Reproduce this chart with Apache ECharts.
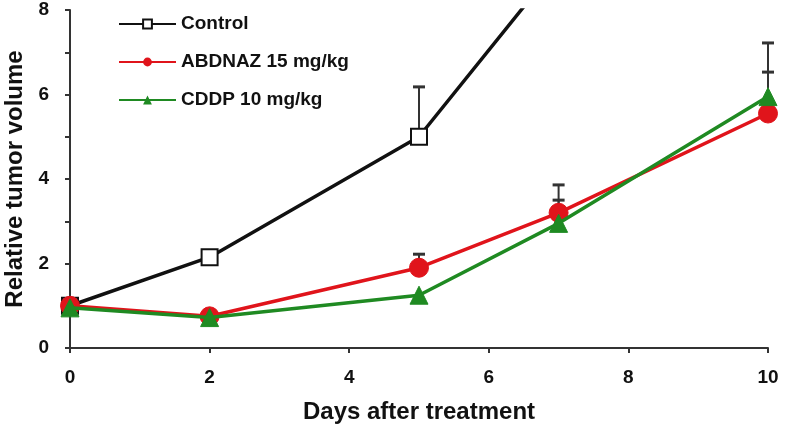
<!DOCTYPE html>
<html><head><meta charset="utf-8">
<script src="https://cdn.jsdelivr.net/npm/echarts@6/dist/echarts.min.js"></script>
<style>html,body{margin:0;padding:0;background:#fff}#c{width:788px;height:430px}</style>
</head><body><div id="c"></div>
<script>
const days = [0, 2, 5, 7, 10];
const controlVals = [1.0, 2.15, 5.0, 9.1, null];
const abdnazVals = [1.0, 0.75, 1.9, 3.2, 5.55];
const cddpVals = [0.95, 0.72, 1.25, 2.95, 5.95];
// error bar tops [day, value, top]
const controlErr = [[5, 5.0, 6.18]];
const abdnazErr = [[5, 1.9, 2.22], [7, 3.2, 3.86], [10, 5.55, 6.53]];
const cddpErr = [[7, 2.95, 3.5], [10, 5.95, 7.22]];
const xTicks = [0, 2, 4, 6, 8, 10];
const yTicks = [0, 2, 4, 6, 8];

const font = '"Liberation Sans", Arial, sans-serif';
function pairs(v){ return days.map((d,i)=>[d, v[i]]).filter(p=>p[1]!==null); }
function errSeries(data){
  return {
    type:'custom', data: data, z: 1, silent:true, clip:false,
    renderItem(params, api){
      const p0 = api.coord([api.value(0), api.value(1)]);
      const p1 = api.coord([api.value(0), api.value(2)]);
      return {type:'group', children:[
        {type:'line', shape:{x1:p0[0],y1:p0[1],x2:p1[0],y2:p1[1]}, style:{stroke:'#333',lineWidth:2}},
        {type:'line', shape:{x1:p1[0]-6,y1:p1[1],x2:p1[0]+6,y2:p1[1]}, style:{stroke:'#333',lineWidth:3}}
      ]};
    }
  };
}
const chart = echarts.init(document.getElementById('c'));
chart.setOption({
  animation:false,
  grid:{left:70, right:20, top:10, bottom:82, outerBoundsMode:'none', containLabel:false},
  legend:{
    left:113, top:8, orient:'vertical', itemGap:16, itemWidth:57, itemHeight:11,
    textStyle:{fontFamily:font, fontWeight:'bold', fontSize:19, lineHeight:22, color:'#111'},
    data:['Control','ABDNAZ 15 mg/kg','CDDP 10 mg/kg']
  },
  xAxis:{
    type:'value', min:0, max:10, interval:2,
    name:'Days after treatment', nameLocation:'middle', nameGap:52,
    nameTextStyle:{fontFamily:font, fontWeight:'bold', fontSize:24, color:'#111'},
    axisLine:{lineStyle:{color:'#333', width:2}},
    axisTick:{show:true, length:5, lineStyle:{color:'#333', width:2}},
    axisLabel:{fontFamily:font, fontWeight:'bold', fontSize:19, color:'#111', margin:20},
    splitLine:{show:false}
  },
  yAxis:{
    type:'value', min:0, max:8, interval:1,
    name:'Relative tumor volume', nameLocation:'middle', nameGap:40,
    nameTextStyle:{fontFamily:font, fontWeight:'bold', fontSize:24, color:'#111'},
    axisLine:{show:true, lineStyle:{color:'#333', width:2}},
    axisTick:{show:true, length:5, lineStyle:{color:'#333', width:2}},
    axisLabel:{fontFamily:font, fontWeight:'bold', fontSize:19, color:'#111', margin:21,
      formatter:v=> yTicks.indexOf(v)>=0 ? String(v) : ''},
    splitLine:{show:false}
  },
  series:[
    errSeries(controlErr), errSeries(abdnazErr), errSeries(cddpErr),
    {name:'Control', type:'line', data:pairs(controlVals), symbol:'rect', symbolSize:16, z:3,
      lineStyle:{color:'#111', width:3.5}, itemStyle:{color:'#fff', borderColor:'#111', borderWidth:2}},
    {name:'ABDNAZ 15 mg/kg', type:'line', data:pairs(abdnazVals), symbol:'circle', symbolSize:19, z:4,
      lineStyle:{color:'#e0141b', width:3.5}, itemStyle:{color:'#e0141b', borderColor:'#e0141b'}},
    {name:'CDDP 10 mg/kg', type:'line', data:pairs(cddpVals), symbol:'triangle', symbolSize:18, z:5,
      lineStyle:{color:'#1f8a22', width:3.5}, itemStyle:{color:'#1f8a22', borderColor:'#1f8a22'}}
  ]
});
</script></body></html>
